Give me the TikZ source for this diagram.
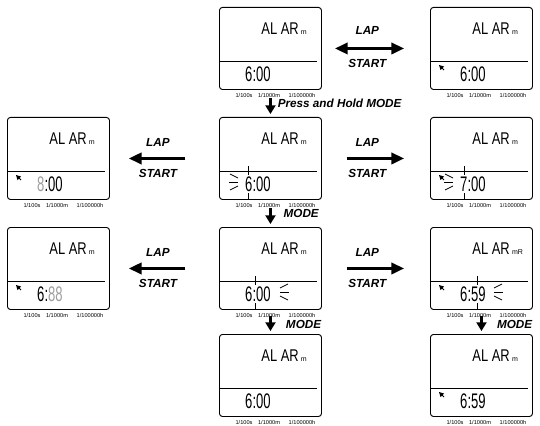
\documentclass[tikz,border=0pt]{standalone}
\usepackage{fontspec}
\setmainfont{Liberation Sans}
\newfontfamily\lcdfont[FakeStretch=0.76]{Liberation Sans}
\newfontfamily\clockfont[FakeStretch=0.62]{Liberation Sans}
\usetikzlibrary{arrows.meta}
\definecolor{dim}{gray}{0.62}
\tikzset{
  screen/.style={draw, line width=0.8pt, rounded corners=2.5pt, minimum width=3.06cm, minimum height=2.46cm, inner sep=0pt},
  alarm/.style={font=\lcdfont\fontsize{14.5}{14.5}\selectfont, inner sep=0pt},
  icon/.style={font=\fontsize{6}{6}\selectfont, inner sep=0pt},
  clock/.style={font=\clockfont\fontsize{18}{18}\selectfont, inner sep=0pt},
  capt/.style={font=\fontsize{4.8}{5}\selectfont, inner sep=0pt},
  key/.style={font=\fontsize{10}{11}\selectfont\bfseries\itshape, inner sep=0pt},
  flash/.style={line width=0.6pt},
  hbar/.style={line width=3pt, -{Triangle[width=9.5pt,length=11pt]}},
  dbar/.style={line width=3pt, {Triangle[width=9.5pt,length=11pt]}-{Triangle[width=9.5pt,length=11pt]}},
  vbar/.style={line width=2.5pt, -{Triangle[width=8.5pt,length=7.5pt]}},
}
% name, left, top, icon
\newcommand{\lcdscreen}[4]{%
  \node[screen, anchor=north west] (#1) at (#2,#3) {};
  \draw[line width=0.6pt] (#2+1,#3+54) -- (#2+98,#3+54);
  \node[alarm, anchor=east] (#1-al) at (#2+80,#3+22) {AL AR};
  \node[icon, anchor=south west] (#1-ic) at ([xshift=1.5pt]#1-al.south east) {#4};
  \node[capt] (#1-ca) at (#2+25,#3+88) {1/100s};
  \node[capt] (#1-cb) at (#2+50,#3+88) {1/1000m};
  \node[capt] (#1-cc) at (#2+83,#3+88) {1/100000h};
}
% left, top
\newcommand{\lcdpointer}[2]{%
  \fill (#1+9,#2+58) -- (#1+14,#2+59.5) -- (#1+10.5,#2+63) -- cycle;
  \draw[line width=0.7pt] (#1+11,#2+60) -- (#1+14,#2+63);
}
\begin{document}
\begin{tikzpicture}[x=0.03cm,y=-0.03cm]
  \useasboundingbox (0,0) rectangle (540,425);

  %screens
  \lcdscreen{s1}{219}{7}{m}
  \lcdscreen{s2}{430}{7}{m}
  \lcdscreen{s3}{7}{117}{m}
  \lcdscreen{s4}{219}{117}{m}
  \lcdscreen{s5}{430}{117}{m}
  \lcdscreen{s6}{7}{227}{m}
  \lcdscreen{s7}{219}{227}{m}
  \lcdscreen{s8}{430}{227}{mR}
  \lcdscreen{s9}{219}{334}{m}
  \lcdscreen{s10}{430}{334}{m}

  %pointers
  \lcdpointer{430}{7}
  \lcdpointer{7}{117}
  \lcdpointer{430}{117}
  \lcdpointer{7}{227}
  \lcdpointer{430}{227}
  \lcdpointer{430}{334}

  %times
  \node[clock, anchor=west] (s1-t) at (245,74) {6:00};
  \node[clock, anchor=west] (s2-t) at (460,74) {6:00};
  \node[clock, anchor=west] (s3-t) at (37,184) {{\color{dim}8}:00};
  \node[clock, anchor=west] (s4-t) at (245,184) {6:00};
  \node[clock, anchor=west] (s5-t) at (460,184) {7:00};
  \node[clock, anchor=west] (s6-t) at (37,294) {6:{\color{dim}88}};
  \node[clock, anchor=west] (s7-t) at (245,294) {6:00};
  \node[clock, anchor=west] (s8-t) at (460,294) {6:59};
  \node[clock, anchor=west] (s9-t) at (245,401) {6:00};
  \node[clock, anchor=west] (s10-t) at (460,401) {6:59};

  %flashing hours
  \draw[flash] (230,174) -- (238,178);
  \draw[flash] (229,182) -- (238,182);
  \draw[flash] (230,190) -- (238,186);
  \draw[flash] (248,166) -- (248,175);
  \draw[flash] (248,193) -- (248,199);
  \draw[flash] (445,174) -- (453,178);
  \draw[flash] (444,182) -- (453,182);
  \draw[flash] (445,190) -- (453,186);
  \draw[flash] (464,166) -- (464,175);
  \draw[flash] (464,193) -- (464,199);

  %flashing minutes
  \draw[flash] (280,288) -- (288,284);
  \draw[flash] (280,292) -- (289,292);
  \draw[flash] (280,296) -- (288,300);
  \draw[flash] (255,276) -- (255,285);
  \draw[flash] (255,303) -- (255,309);
  \draw[flash] (494,288) -- (502,284);
  \draw[flash] (494,292) -- (503,292);
  \draw[flash] (494,296) -- (502,300);
  \draw[flash] (477,276) -- (477,285);
  \draw[flash] (477,303) -- (477,309);

  %LAP / START
  \draw[dbar, shorten <=11pt, shorten >=22pt] (s1) -- (s2)
    node[key, pos=0.42, above=10pt] (k1) {LAP}
    node[key, pos=0.42, below=8pt] (k2) {START};
  \draw[hbar, shorten <=29pt, shorten >=16pt] (s4) -- (s3)
    node[key, pos=0.56, above=9pt] (k3) {LAP}
    node[key, pos=0.56, below=8pt] (k4) {START};
  \draw[hbar, shorten <=21pt, shorten >=22pt] (s4) -- (s5)
    node[key, pos=0.42, above=9pt] (k5) {LAP}
    node[key, pos=0.42, below=8pt] (k6) {START};
  \draw[hbar, shorten <=29pt, shorten >=16pt] (s7) -- (s6)
    node[key, pos=0.56, above=9pt] (k7) {LAP}
    node[key, pos=0.56, below=8pt] (k8) {START};
  \draw[hbar, shorten <=21pt, shorten >=22pt] (s7) -- (s8)
    node[key, pos=0.42, above=9pt] (k9) {LAP}
    node[key, pos=0.42, below=8pt] (k10) {START};

  %MODE
  \draw[vbar, shorten <=7pt, shorten >=2.5pt] (s1) -- (s4)
    node[key, pos=0.5, right=5pt] (m1) {Press and Hold MODE};
  \draw[vbar, shorten <=7pt, shorten >=2.5pt] (s4) -- (s7)
    node[key, pos=0.5, right=10pt] (m2) {MODE};
  \draw[vbar, shorten <=5pt, shorten >=2.5pt] (s7) -- (s9)
    node[key, pos=0.6, right=12pt] (m3) {MODE};
  \draw[vbar, shorten <=5pt, shorten >=2.5pt] (s8) -- (s10)
    node[key, pos=0.6, right=12pt] (m4) {MODE};
\end{tikzpicture}
\end{document}
